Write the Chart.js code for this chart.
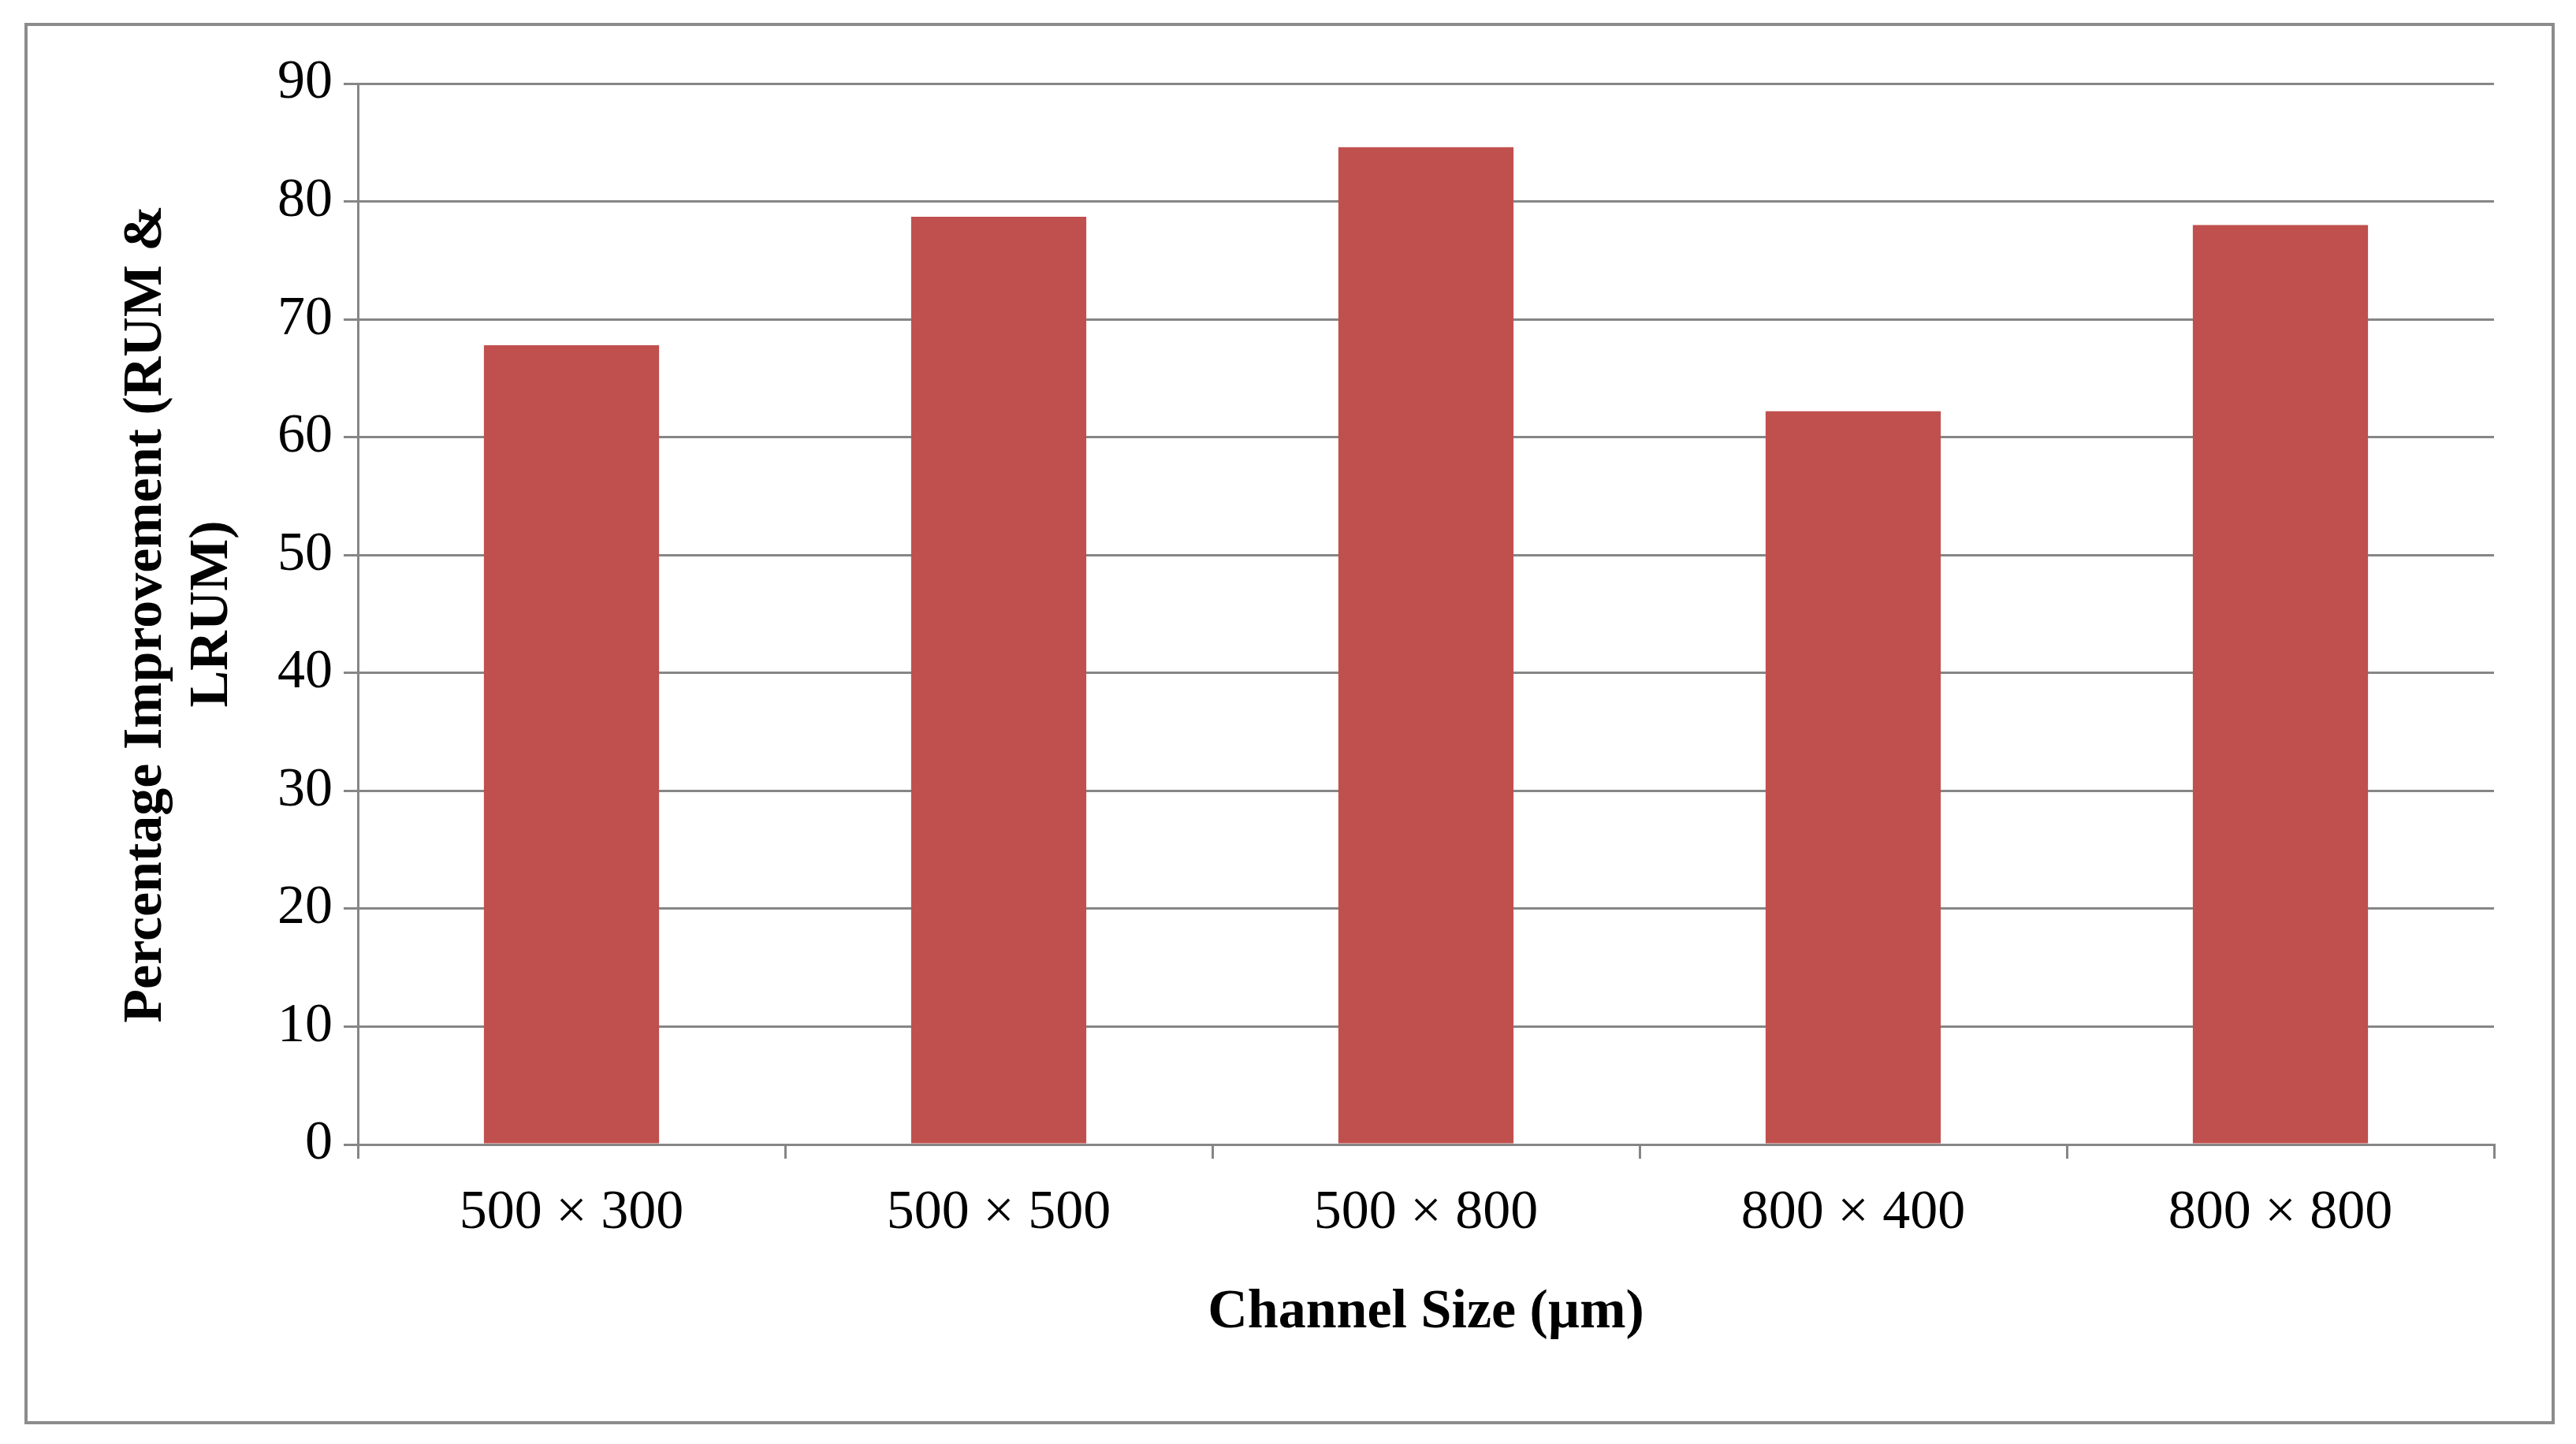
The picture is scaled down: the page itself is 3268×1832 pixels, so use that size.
<!DOCTYPE html>
<html><head><meta charset="utf-8">
<script src="https://cdn.jsdelivr.net/npm/chart.js@4/dist/chart.umd.min.js"></script>
<style>html,body{margin:0;padding:0;background:#fff}#wrap{width:3268px;height:1832px;position:relative}</style>
</head><body><div id="wrap"><canvas id="c" width="3268" height="1832"></canvas></div>
<script>
const categories = ["500 × 300","500 × 500","500 × 800","800 × 400","800 × 800"];
const improvement = [67.8, 78.7, 84.6, 62.2, 78.0];
const yTicks = [0,10,20,30,40,50,60,70,80,90];

const border = {id:'border',beforeDraw(ch){const c=ch.ctx;c.save();c.fillStyle='#fff';c.fillRect(0,0,ch.width,ch.height);c.strokeStyle='#8c8c8c';c.lineWidth=4;c.strokeRect(33,31,3206,1774);c.restore();}};
Chart.defaults.font.family = '"Liberation Serif","Times New Roman",serif';
Chart.defaults.color = '#000';
new Chart(document.getElementById('c'),{
  type:'bar',
  data:{labels:categories,datasets:[{data:improvement,backgroundColor:'#c0504d',categoryPercentage:1,barPercentage:0.41}]},
  options:{responsive:false,animation:false,devicePixelRatio:1,
    layout:{padding:{left:140,right:104,top:106,bottom:120}},
    plugins:{legend:{display:false},tooltip:{enabled:false}},
    scales:{
      x:{grid:{offset:true,drawOnChartArea:false,color:'#868686',lineWidth:3,tickLength:18},
         border:{color:'#868686',width:3},
         ticks:{font:{size:70},padding:28},
         title:{display:true,text:'Channel Size (µm)',font:{size:70,weight:'bold'},padding:{top:14}}},
      y:{min:0,max:90,afterBuildTicks(a){a.ticks=yTicks.map(v=>({value:v}));},
         grid:{color:'#868686',lineWidth:3,tickLength:18},
         border:{color:'#868686',width:3},
         ticks:{font:{size:70},padding:14},
         title:{display:true,text:['Percentage Improvement (RUM &','LRUM)'],font:{size:70,weight:'bold'},padding:{bottom:26}}}
    }},
  plugins:[border]
});
</script></body></html>
